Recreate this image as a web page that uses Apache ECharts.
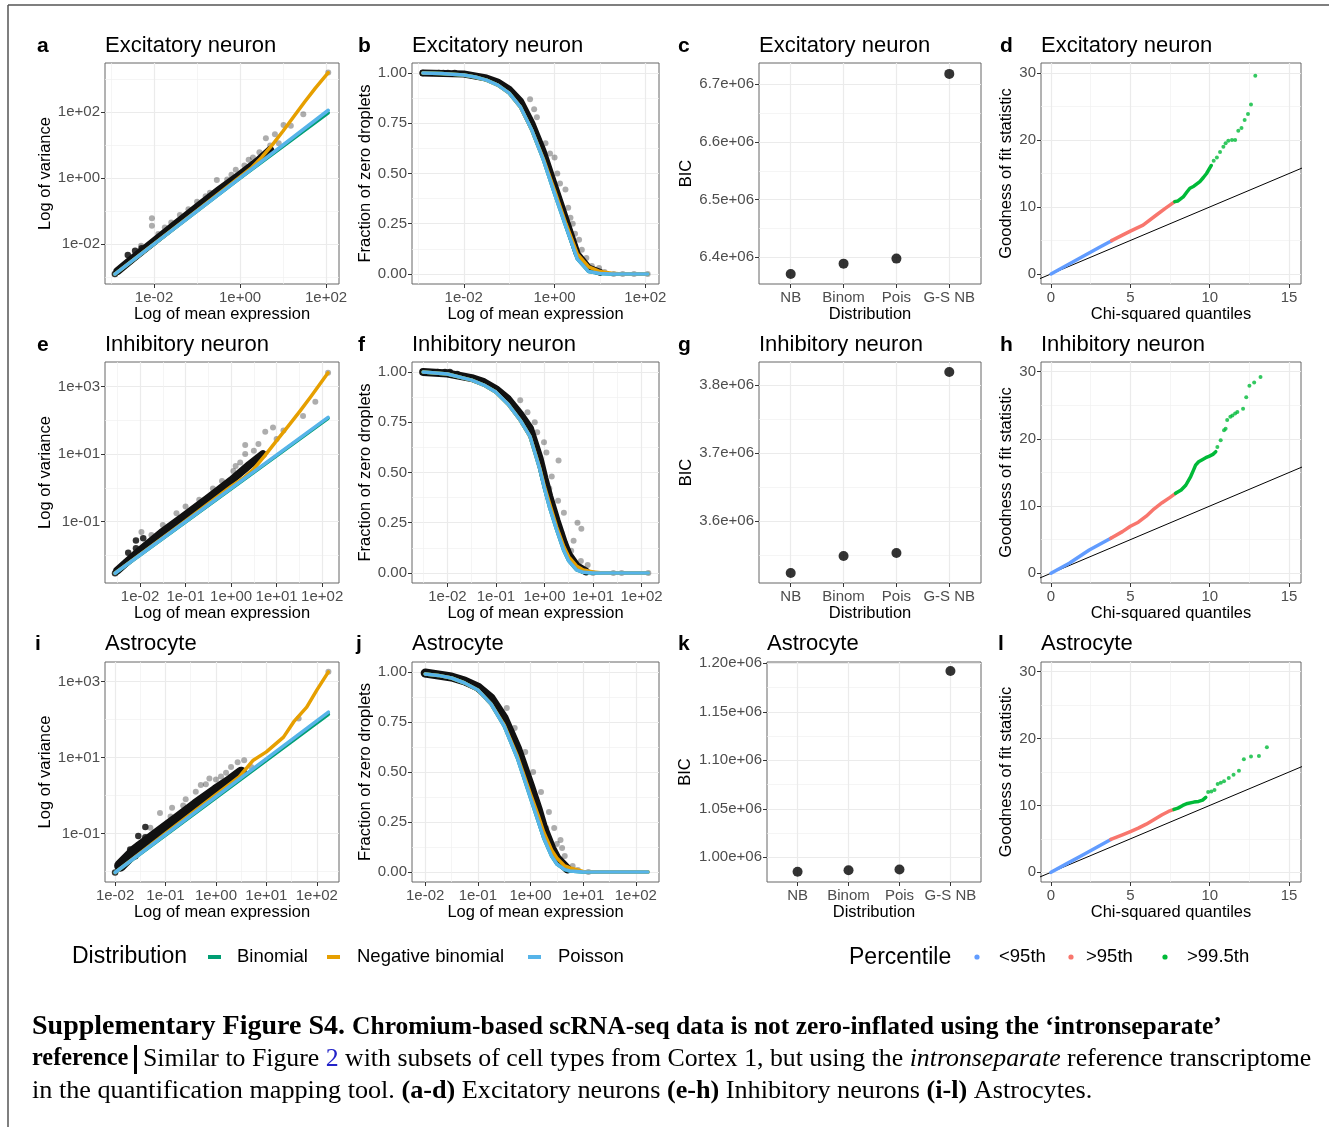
<!DOCTYPE html>
<html>
<head>
<meta charset="utf-8">
<title>Supplementary Figure S4</title>
<script src="https://cdn.jsdelivr.net/npm/echarts@6.0.0/dist/echarts.min.js"></script>
<style>
  html, body { margin: 0; padding: 0; background: #fff; }
  #main { width: 1329px; height: 1127px; }
</style>
</head>
<body>
<div id="main"></div>
<script>
// expression panels are stored as [log10(mean), log10(variance)] or [log10(mean), fraction of zeros]

// ---- Excitatory neuron ----
const aPois  = [[-2.91, -2.91], [2.05, 2.05]];
const aBinom = [[-2.91, -2.91], [0, -0.005], [2.05, 1.97]];
const aNB    = [[-2.91, -2.91], [-1, -0.99], [0, 0.03], [0.25, 0.29], [0.5, 0.62], [0.75, 1.0], [1.0, 1.42], [1.25, 1.86],
                [1.5, 2.3], [1.75, 2.72], [2.05, 3.19]];
const aBand  = [[-2.85, -2.82], [-2.5, -2.44], [-2, -1.92], [-1.5, -1.4], [-1, -0.88], [-0.5, -0.38], [0, 0.1], [0.4, 0.5], [0.7, 0.85]];
const aGrey  = [[-2.05, -1.22], [-2.05, -1.45], [-1.9, -1.7], [-1.6, -1.35], [-1.2, -0.95], [-1.0, -0.72], [-0.8, -0.55],
                [-0.54, -0.06], [-0.3, -0.05], [-0.1, 0.25], [0.1, 0.38], [0.3, 0.62], [0.45, 0.78], [0.6, 1.2], [0.81, 1.32],
                [1.01, 1.6], [1.18, 1.58], [1.47, 1.93], [2.05, 3.19], [0.9, 1.05], [0.7, 0.98], [0.2, 0.55], [-0.2, 0.1],
                [-0.7, -0.45], [-1.4, -1.12], [-1.75, -1.5], [-2.3, -2.05]];
const aBlack = [[-2.91, -2.91], [-2.61, -2.33], [-2.44, -2.2], [-2.29, -2.13]];

const bPois  = [[-2.9, 1.0], [-2.5, 0.998], [-2, 0.99], [-1.75, 0.98], [-1.5, 0.965], [-1.25, 0.94], [-1, 0.9], [-0.75, 0.83],
                [-0.5, 0.715], [-0.25, 0.57], [0, 0.4], [0.25, 0.235], [0.5, 0.075], [0.75, 0.012], [1, 0.002], [1.25, 0], [2.05, 0]];
const bBinom = [[-2.9, 1.0], [-2.5, 0.998], [-2, 0.99], [-1.75, 0.98], [-1.5, 0.965], [-1.25, 0.94], [-1, 0.9], [-0.75, 0.83],
                [-0.5, 0.715], [-0.25, 0.57], [0, 0.4], [0.25, 0.235], [0.5, 0.075], [0.75, 0.012], [1, 0.002], [1.25, 0], [2.05, 0]];
const bNB    = [[-2.9, 1.0], [-2.5, 0.998], [-2, 0.99], [-1.75, 0.98], [-1.5, 0.965], [-1.25, 0.94], [-1, 0.9], [-0.75, 0.83],
                [-0.5, 0.715], [-0.25, 0.575], [0, 0.415], [0.25, 0.25], [0.5, 0.1], [0.75, 0.035], [1, 0.012], [1.25, 0.003],
                [1.5, 0], [2.05, 0]];
const bBand  = [[-2.9, 1.0], [-2, 0.995], [-1.5, 0.975], [-1.25, 0.955], [-1, 0.92], [-0.75, 0.86], [-0.5, 0.75], [-0.25, 0.61],
                [0, 0.44], [0.25, 0.27], [0.5, 0.1], [0.75, 0.03], [1, 0.008]];
const bGrey  = [[-0.54, 0.87], [-0.39, 0.78], [-0.45, 0.82], [-0.2, 0.65], [0.0, 0.58], [0.06, 0.5], [0.12, 0.45], [0.24, 0.42],
                [0.2, 0.3], [0.35, 0.28], [0.45, 0.2], [0.54, 0.17], [0.6, 0.12], [0.7, 0.08], [0.82, 0.04], [0.98, 0.03],
                [1.1, 0.01], [1.3, 0], [1.5, 0], [1.75, 0], [2.05, 0], [-0.1, 0.6], [0.3, 0.33], [0.4, 0.25]];
const bBlack = [[-2.9, 1.0], [-2.55, 1.0], [-2.45, 1.0], [-2.35, 1.0], [-2.2, 1.0]];

const bicCategories = ['NB', 'Binom', 'Pois', 'G-S NB'];
const cBIC = [6.371e6, 6.389e6, 6.3977e6, 6.718e6];

const qqRef  = [[-1, -1], [16, 16]];
const dBlue  = [[0, 0], [1, 1.3], [2, 2.6], [3, 3.9], [3.82, 4.97]];
const dRed   = [[3.82, 4.97], [4.5, 5.8], [5, 6.4], [5.8, 7.3], [6.64, 8.8], [7.2, 9.8], [7.8, 10.8]];
const dGreen = [[7.8, 10.8], [8.0, 10.9], [8.33, 11.5], [8.55, 12.2], [8.75, 12.8], [9.0, 13.1], [9.38, 13.8], [9.6, 14.4],
                [9.8, 15.0], [9.95, 15.6], [10.1, 16.2]];
const dGreenDots = [[10.25, 16.9], [10.45, 17.4], [10.65, 18.2], [10.86, 19.0], [11.0, 19.5], [11.17, 19.9], [11.4, 20.0],
                    [11.6, 20.0], [11.8, 21.4], [12.0, 21.8], [12.2, 23.0], [12.41, 23.9], [12.6, 25.3], [12.87, 29.6]];

// ---- Inhibitory neuron ----
const ePois  = [[-2.55, -2.53], [2.13, 2.09]];
const eBinom = [[-2.55, -2.53], [2.13, 2.06]];
const eNB    = [[-2.55, -2.53], [-1, -0.98], [0, 0.04], [0.25, 0.27], [0.5, 0.56], [0.75, 0.97], [1.0, 1.4], [1.25, 1.82],
                [1.5, 2.25], [1.75, 2.7], [2.13, 3.41]];
const eBand  = [[-2.5, -2.45], [-2, -1.85], [-1.5, -1.3], [-1, -0.8], [-0.5, -0.3], [0, 0.22], [0.4, 0.68], [0.7, 1.0]];
const eGrey  = [[-1.97, -1.31], [0.31, 1.27], [0.31, 1.0], [0.75, 1.66], [0.92, 1.79], [1.58, 2.13], [2.13, 3.41], [-1.5, -1.1],
                [-1.2, -0.75], [-1.0, -0.55], [-0.7, -0.35], [-0.4, -0.02], [-0.2, 0.2], [0.05, 0.5], [0.2, 0.75], [0.5, 1.1],
                [0.6, 1.3], [1.0, 1.45], [1.15, 1.7], [1.85, 2.55], [-1.75, -1.4], [-0.9, -0.75], [0.1, 0.65]];
const eBlack = [[-2.55, -2.53], [-2.26, -1.92], [-2.09, -1.79], [-2.09, -1.56], [-1.93, -1.49], [-2.3, -2.2]];

const fPois  = [[-2.5, 1.0], [-2, 0.99], [-1.5, 0.96], [-1.25, 0.935], [-1, 0.9], [-0.75, 0.84], [-0.5, 0.76], [-0.3, 0.68],
                [-0.1, 0.52], [0, 0.42], [0.1, 0.33], [0.25, 0.215], [0.4, 0.11], [0.5, 0.06], [0.66, 0.015], [0.8, 0.003],
                [1.0, 0], [2.14, 0]];
const fBinom = [[-2.5, 1.0], [-2, 0.99], [-1.5, 0.96], [-1.25, 0.935], [-1, 0.9], [-0.75, 0.84], [-0.5, 0.76], [-0.3, 0.68],
                [-0.1, 0.52], [0, 0.42], [0.1, 0.33], [0.25, 0.215], [0.4, 0.11], [0.5, 0.06], [0.66, 0.015], [0.8, 0.003],
                [1.0, 0], [2.14, 0]];
const fNB    = [[-2.5, 1.0], [-2, 0.99], [-1.5, 0.96], [-1.25, 0.935], [-1, 0.9], [-0.75, 0.84], [-0.5, 0.76], [-0.3, 0.68],
                [-0.1, 0.525], [0, 0.43], [0.1, 0.35], [0.25, 0.23], [0.4, 0.13], [0.5, 0.08], [0.66, 0.035], [0.8, 0.015],
                [1.0, 0.005], [1.2, 0], [2.14, 0]];
const fBand  = [[-2.5, 1.0], [-2, 0.993], [-1.5, 0.97], [-1.25, 0.95], [-1, 0.915], [-0.75, 0.865], [-0.5, 0.79], [-0.3, 0.72],
                [-0.1, 0.57], [0, 0.47], [0.1, 0.38], [0.25, 0.26], [0.4, 0.15], [0.5, 0.09], [0.66, 0.035], [0.85, 0.008]];
const fGrey  = [[0.29, 0.56], [-0.01, 0.65], [0.04, 0.6], [0.68, 0.25], [0.76, 0.22], [0.28, 0.36], [0.55, 0.11], [0.89, 0.04],
                [1.0, 0], [1.42, 0], [1.59, 0], [2.14, 0], [-0.35, 0.8], [-0.2, 0.75], [-0.5, 0.86], [0.15, 0.48], [0.4, 0.3],
                [0.6, 0.16], [0.1, 0.42], [0.35, 0.2], [0.75, 0.06], [-0.15, 0.7]];
const fBlack = [[-2.5, 1.0], [-2.2, 1.0], [-2.05, 1.0], [-1.95, 1.0], [-1.8, 0.99]];

const gBIC = [3.5235e6, 3.5485e6, 3.5529e6, 3.8191e6];

const hBlue  = [[0, 0], [1.15, 1.49], [2.41, 3.47], [3.77, 5.2]];
const hRed   = [[3.77, 5.2], [4.5, 6.2], [5, 7], [5.5, 7.6], [6, 8.5], [6.5, 9.6], [7, 10.5], [7.5, 11.3], [7.85, 11.9]];
const hGreen = [[7.85, 11.9], [8.2, 12.4], [8.49, 13.1], [8.8, 14.4], [8.95, 15.2], [9.11, 16.1], [9.3, 16.6], [9.53, 16.9],
                [9.75, 17.2], [9.95, 17.4], [10.2, 17.7], [10.38, 18.1]];
const hGreenDots = [[10.48, 18.8], [10.69, 19.8], [10.9, 21.3], [11.0, 21.5], [11.1, 22.8], [11.3, 23.3], [11.43, 23.5],
                    [11.6, 23.8], [11.74, 24.0], [12.1, 24.5], [12.3, 26.2], [12.5, 27.9], [12.8, 28.4], [13.2, 29.2]];

// ---- Astrocyte ----
const iPois  = [[-2.0, -2.03], [2.23, 2.2]];
const iBinom = [[-2.0, -2.03], [2.23, 2.14]];
const iNB    = [[-2.0, -2.03], [-1, -1.0], [0, 0.02], [0.46, 0.49], [0.74, 0.93], [1.0, 1.15], [1.34, 1.54], [1.54, 1.94],
                [1.8, 2.33], [2.0, 2.78], [2.23, 3.26]];
const iBand  = [[-1.9, -1.85], [-1.6, -1.45], [-1.2, -1.05], [-0.8, -0.65], [-0.4, -0.25], [0, 0.13], [0.3, 0.4], [0.5, 0.6]];
const iGrey  = [[1.64, 2.03], [0.43, 0.88], [0.56, 0.93], [-1.11, -0.46], [-0.87, -0.32], [-0.65, -0.26], [-0.13, 0.45],
                [2.23, 3.26], [-0.4, 0.1], [-0.2, 0.3], [0.1, 0.5], [0.3, 0.75], [-0.9, -0.55], [-0.6, -0.1], [-1.3, -0.85],
                [0.2, 0.6], [0.7, 0.75], [-0.3, 0.28], [0.0, 0.42]];
const iBlack = [[-2.0, -2.03], [-1.7, -1.42], [-1.54, -1.31], [-1.54, -1.07], [-1.4, -0.83], [-1.4, -1.1], [-1.3, -1.2],
                [-1.6, -1.6], [-1.8, -1.75]];

const jPois  = [[-2.0, 0.99], [-1.75, 0.983], [-1.5, 0.97], [-1.25, 0.945], [-1.0, 0.91], [-0.75, 0.84], [-0.5, 0.73],
                [-0.25, 0.57], [0, 0.37], [0.15, 0.25], [0.25, 0.17], [0.4, 0.08], [0.5, 0.04], [0.65, 0.012], [0.75, 0.005],
                [1.0, 0], [2.23, 0]];
const jBinom = [[-2.0, 0.99], [-1.75, 0.983], [-1.5, 0.97], [-1.25, 0.945], [-1.0, 0.91], [-0.75, 0.84], [-0.5, 0.73],
                [-0.25, 0.57], [0, 0.37], [0.15, 0.25], [0.25, 0.17], [0.4, 0.08], [0.5, 0.04], [0.65, 0.012], [0.75, 0.005],
                [1.0, 0], [2.23, 0]];
const jNB    = [[-2.0, 0.99], [-1.75, 0.983], [-1.5, 0.97], [-1.25, 0.945], [-1.0, 0.91], [-0.75, 0.84], [-0.5, 0.735],
                [-0.25, 0.58], [0, 0.39], [0.15, 0.28], [0.25, 0.2], [0.4, 0.11], [0.5, 0.07], [0.65, 0.03], [0.75, 0.02],
                [1.0, 0.003], [1.3, 0], [2.23, 0]];
const jBand  = [[-2.0, 0.995], [-1.5, 0.975], [-1.25, 0.955], [-1.0, 0.925], [-0.75, 0.87], [-0.5, 0.77], [-0.25, 0.62],
                [0, 0.43], [0.15, 0.31], [0.25, 0.22], [0.4, 0.12], [0.5, 0.07], [0.7, 0.015]];
const jGrey  = [[0.57, 0.16], [0.6, 0.12], [0.45, 0.22], [0.35, 0.3], [0.2, 0.4], [0.05, 0.5], [-0.1, 0.6], [-0.3, 0.72],
                [0.65, 0.08], [0.8, 0.03], [0.9, 0.01], [1.1, 0], [-0.45, 0.82], [0.1, 0.35], [0.3, 0.22], [0.5, 0.14]];
const jBlack = [[-2.0, 0.99], [-1.9, 0.99], [-1.8, 0.985]];

const kBIC = [0.985e6, 0.9866e6, 0.9873e6, 1.1921e6];

const lBlue  = [[0, 0], [1, 1.3], [2, 2.6], [3, 3.9], [3.77, 4.91]];
const lRed   = [[3.77, 4.91], [4.5, 5.6], [5, 6.1], [5.5, 6.6], [6, 7.2], [6.5, 7.9], [7, 8.6], [7.4, 9.1], [7.75, 9.4]];
const lGreen = [[7.75, 9.4], [8.0, 9.6], [8.3, 10.0], [8.6, 10.3], [9.0, 10.5], [9.3, 10.6], [9.55, 10.8], [9.75, 11.2]];
const lGreenDots = [[9.9, 12.0], [10.1, 12.1], [10.3, 12.3], [10.5, 13.2], [10.7, 13.4], [10.9, 13.6], [11.2, 14.1],
                    [11.5, 14.6], [11.84, 15.2], [12.15, 16.9], [12.6, 17.3], [13.1, 17.4], [13.6, 18.7]];

// tick positions
const logTicks2 = [-2, 0, 2], logMinor2 = [-3, -1, 1, 3];
const logTicks1 = [-2, -1, 0, 1, 2], logMinor1 = [-2.5, -1.5, -0.5, 0.5, 1.5];
const varTicks = [-1, 1, 3], varMinor = [-2, 0, 2];
const fracTicks = [0, 0.25, 0.5, 0.75, 1], fracMinor = [0.125, 0.375, 0.625, 0.875];
const qqXTicks = [0, 5, 10, 15], qqXMinor = [2.5, 7.5, 12.5];
const qqYTicks = [0, 10, 20, 30], qqYMinor = [5, 15, 25];

const FONT = 'Liberation Sans, Arial, Helvetica, sans-serif';
const SERIF = 'Liberation Serif, Times New Roman, serif';
const C_BINOM = '#009E73', C_NB = '#E69F00', C_POIS = '#56B4E9';
const C_LOW = '#619CFF', C_MID = '#F8766D', C_HIGH = '#00BA38';

const logFmt = v => {
  const e = Math.round(v);
  return '1e' + (e < 0 ? '-' : '+') + String(Math.abs(e)).padStart(2, '0');
};
const fracFmt = v => v.toFixed(2);
const bicFmt = d => v => (v / 1e6).toFixed(d) + 'e+06';
const catFmt = v => bicCategories[Math.round(v) - 1];

const grids = [], xAxes = [], yAxes = [], series = [], graphics = [];

function makeAxes(list, gi, a, name, gap, isY) {
  list.push({
    type: 'value', gridIndex: gi, min: a.min, max: a.max,
    axisLine: { show: false, onZero: false },
    axisTick: { show: true, length: 4, customValues: a.major, lineStyle: { color: '#333', width: 1 } },
    axisLabel: { show: true, customValues: a.major, formatter: a.fmt, color: '#4d4d4d', fontSize: 15,
                 fontFamily: FONT, margin: isY ? 5 : 6 },
    splitLine: { show: true, lineStyle: { color: '#ebebeb', width: 1.2 } },
    name: name, nameLocation: 'middle', nameGap: gap,
    nameTextStyle: { color: '#000', fontSize: 16.5, fontFamily: FONT }
  });
  list.push({
    type: 'value', gridIndex: gi, min: a.min, max: a.max, position: isY ? 'left' : 'bottom',
    axisLine: { show: false, onZero: false }, axisLabel: { show: false },
    axisTick: { show: false, customValues: a.minor.length ? a.minor : [a.min] },
    splitLine: { show: a.minor.length > 0, lineStyle: { color: '#f0f0f0', width: 0.7 } }
  });
}

const lineS = (gi, name, data, color, width) => ({
  type: 'line', name, xAxisIndex: 2 * gi, yAxisIndex: 2 * gi, data, symbol: 'none', showSymbol: false,
  lineStyle: { color, width, cap: 'round', join: 'round' }, clip: true, silent: true
});
const dotS = (gi, name, data, color, size) => ({
  type: 'scatter', name, xAxisIndex: 2 * gi, yAxisIndex: 2 * gi, data, symbolSize: size,
  itemStyle: { color }, silent: true
});

function text(x, y, str, size, extra) {
  graphics.push({ type: 'text', x, y, silent: true,
    style: Object.assign({ text: str, fontSize: size, fontFamily: FONT, fill: '#000',
      align: 'left', textAlign: 'left', verticalAlign: 'middle', textVerticalAlign: 'middle' }, extra || {}) });
}

function panel(p) {
  const gi = grids.length;
  grids.push({ left: p.box[0], top: p.box[1], width: p.box[2], height: p.box[3], show: true,
               borderColor: '#666', borderWidth: 1, backgroundColor: '#fff' });
  makeAxes(xAxes, gi, p.x, p.xName, 22, false);
  makeAxes(yAxes, gi, p.y, p.yName, p.yGap, true);
  const d = p.d;
  if (p.kind === 'expr') {
    series.push(lineS(gi, 'cloud', d.band, '#111', p.bw));
    series.push(dotS(gi, 'genes', d.grey, 'rgba(0,0,0,0.4)', 6));
    series.push(dotS(gi, 'genes', d.black, '#000', 6.5));
    series.push(lineS(gi, 'Binomial', d.binom, C_BINOM, 3.5));
    series.push(lineS(gi, 'Negative binomial', d.nb, C_NB, 3.5));
    series.push(lineS(gi, 'Poisson', d.pois, C_POIS, 3.5));
  } else if (p.kind === 'bic') {
    series.push(dotS(gi, 'BIC', d.bic.map((v, i) => [i + 1, v]), '#000', 10));
  } else {
    series.push(lineS(gi, 'identity', qqRef, '#000', 1));
    series.push(lineS(gi, '<95th', d.blue, C_LOW, 3.5));
    series.push(lineS(gi, '>95th', d.red, C_MID, 3.5));
    series.push(lineS(gi, '>99.5th', d.green, C_HIGH, 3.5));
    series.push(dotS(gi, '>99.5th', d.dots, C_HIGH, 4));
  }
  text(p.lx, p.ty, p.letter, 21, { fontWeight: 'bold' });
  text(p.box[0], p.ty, p.title, 22);
}

const bicX = { min: 0.4, max: 4.6, major: [1, 2, 3, 4], minor: [], fmt: catFmt };
const qqX = { min: -0.63, max: 15.75, major: qqXTicks, minor: qqXMinor, fmt: String };

const panels = [
  { letter: 'a', lx: 37, ty: 46, title: 'Excitatory neuron', box: [105, 63, 234, 221], kind: 'expr', bw: 8,
    x: { min: -3.14, max: 2.3, major: logTicks2, minor: logMinor2, fmt: logFmt },
    y: { min: -3.21, max: 3.48, major: logTicks2, minor: logMinor2, fmt: logFmt },
    xName: 'Log of mean expression', yName: 'Log of variance', yGap: 51,
    d: { band: aBand, grey: aGrey, black: aBlack, binom: aBinom, nb: aNB, pois: aPois } },
  { letter: 'b', lx: 358, ty: 46, title: 'Excitatory neuron', box: [412, 63, 247, 221], kind: 'expr', bw: 7,
    x: { min: -3.14, max: 2.3, major: logTicks2, minor: logMinor2, fmt: logFmt },
    y: { min: -0.05, max: 1.05, major: fracTicks, minor: fracMinor, fmt: fracFmt },
    xName: 'Log of mean expression', yName: 'Fraction of zero droplets', yGap: 36,
    d: { band: bBand, grey: bGrey, black: bBlack, binom: bBinom, nb: bNB, pois: bPois } },
  { letter: 'c', lx: 678, ty: 46, title: 'Excitatory neuron', box: [759, 63, 222, 221], kind: 'bic',
    x: bicX,
    y: { min: 6.3537e6, max: 6.7369e6, major: [6.4e6, 6.5e6, 6.6e6, 6.7e6], minor: [6.45e6, 6.55e6, 6.65e6], fmt: bicFmt(1) },
    xName: 'Distribution', yName: 'BIC', yGap: 64, d: { bic: cBIC } },
  { letter: 'd', lx: 1000, ty: 46, title: 'Excitatory neuron', box: [1041, 63, 260, 221], kind: 'qq',
    x: qqX, y: { min: -1.5, max: 31.5, major: qqYTicks, minor: qqYMinor, fmt: String },
    xName: 'Chi-squared quantiles', yName: 'Goodness of fit statistic', yGap: 25,
    d: { blue: dBlue, red: dRed, green: dGreen, dots: dGreenDots } },

  { letter: 'e', lx: 37, ty: 345, title: 'Inhibitory neuron', box: [105, 362, 234, 221], kind: 'expr', bw: 8,
    x: { min: -2.77, max: 2.37, major: logTicks1, minor: logMinor1, fmt: logFmt },
    y: { min: -2.82, max: 3.73, major: varTicks, minor: varMinor, fmt: logFmt },
    xName: 'Log of mean expression', yName: 'Log of variance', yGap: 51,
    d: { band: eBand, grey: eGrey, black: eBlack, binom: eBinom, nb: eNB, pois: ePois } },
  { letter: 'f', lx: 358, ty: 345, title: 'Inhibitory neuron', box: [412, 362, 247, 221], kind: 'expr', bw: 8,
    x: { min: -2.73, max: 2.36, major: logTicks1, minor: logMinor1, fmt: logFmt },
    y: { min: -0.05, max: 1.05, major: fracTicks, minor: fracMinor, fmt: fracFmt },
    xName: 'Log of mean expression', yName: 'Fraction of zero droplets', yGap: 36,
    d: { band: fBand, grey: fGrey, black: fBlack, binom: fBinom, nb: fNB, pois: fPois } },
  { letter: 'g', lx: 678, ty: 345, title: 'Inhibitory neuron', box: [759, 362, 222, 221], kind: 'bic',
    x: bicX,
    y: { min: 3.5088e6, max: 3.8338e6, major: [3.6e6, 3.7e6, 3.8e6], minor: [3.55e6, 3.65e6, 3.75e6], fmt: bicFmt(1) },
    xName: 'Distribution', yName: 'BIC', yGap: 64, d: { bic: gBIC } },
  { letter: 'h', lx: 1000, ty: 345, title: 'Inhibitory neuron', box: [1041, 362, 260, 221], kind: 'qq',
    x: qqX, y: { min: -1.45, max: 31.45, major: qqYTicks, minor: qqYMinor, fmt: String },
    xName: 'Chi-squared quantiles', yName: 'Goodness of fit statistic', yGap: 25,
    d: { blue: hBlue, red: hRed, green: hGreen, dots: hGreenDots } },

  { letter: 'i', lx: 35, ty: 644, title: 'Astrocyte', box: [105, 662, 234, 220], kind: 'expr', bw: 12,
    x: { min: -2.2, max: 2.44, major: logTicks1, minor: logMinor1, fmt: logFmt },
    y: { min: -2.28, max: 3.52, major: varTicks, minor: varMinor, fmt: logFmt },
    xName: 'Log of mean expression', yName: 'Log of variance', yGap: 51,
    d: { band: iBand, grey: iGrey, black: iBlack, binom: iBinom, nb: iNB, pois: iPois } },
  { letter: 'j', lx: 356, ty: 644, title: 'Astrocyte', box: [412, 662, 247, 220], kind: 'expr', bw: 9,
    x: { min: -2.25, max: 2.44, major: logTicks1, minor: logMinor1, fmt: logFmt },
    y: { min: -0.05, max: 1.05, major: fracTicks, minor: fracMinor, fmt: fracFmt },
    xName: 'Log of mean expression', yName: 'Fraction of zero droplets', yGap: 36,
    d: { band: jBand, grey: jGrey, black: jBlack, binom: jBinom, nb: jNB, pois: jPois } },
  { letter: 'k', lx: 678, ty: 644, title: 'Astrocyte', box: [767, 662, 214, 220], kind: 'bic',
    x: bicX,
    y: { min: 0.9745e6, max: 1.2013e6, major: [1.0e6, 1.05e6, 1.1e6, 1.15e6, 1.2e6],
         minor: [1.025e6, 1.075e6, 1.125e6, 1.175e6], fmt: bicFmt(2) },
    xName: 'Distribution', yName: 'BIC', yGap: 73, d: { bic: kBIC } },
  { letter: 'l', lx: 998, ty: 644, title: 'Astrocyte', box: [1041, 662, 260, 220], kind: 'qq',
    x: qqX, y: { min: -1.45, max: 31.45, major: qqYTicks, minor: qqYMinor, fmt: String },
    xName: 'Chi-squared quantiles', yName: 'Goodness of fit statistic', yGap: 25,
    d: { blue: lBlue, red: lRed, green: lGreen, dots: lGreenDots } }
];
panels.forEach(panel);

// page frame
graphics.push({ type: 'line', silent: true, shape: { x1: 8, y1: 5, x2: 1329, y2: 5 }, style: { stroke: '#555', lineWidth: 1.5 } });
graphics.push({ type: 'line', silent: true, shape: { x1: 8, y1: 5, x2: 8, y2: 1127 }, style: { stroke: '#555', lineWidth: 1.5 } });

// legends
text(72, 957, 'Distribution', 23);
[[208, C_BINOM, 237, 'Binomial'], [327, C_NB, 357, 'Negative binomial'], [528, C_POIS, 558, 'Poisson']].forEach(k => {
  graphics.push({ type: 'rect', silent: true, shape: { x: k[0], y: 955, width: 13, height: 4 }, style: { fill: k[1] } });
  text(k[2], 957, k[3], 18.5);
});
text(849, 958, 'Percentile', 23);
[[977, C_LOW, 999, '<95th'], [1071, C_MID, 1086, '>95th'], [1165, C_HIGH, 1187, '>99.5th']].forEach(k => {
  graphics.push({ type: 'circle', silent: true, shape: { cx: k[0], cy: 957, r: 2.6 }, style: { fill: k[1] } });
  text(k[2], 957, k[3], 18.5);
});

// caption
const capRich = {
  h: { fontFamily: SERIF, fontSize: 28, fontWeight: 'bold', fill: '#000' },
  b: { fontFamily: SERIF, fontSize: 25.5, fontWeight: 'bold', fill: '#000' },
  r: { fontFamily: SERIF, fontSize: 24.3, fontWeight: 'bold', fill: '#000' },
  n: { fontFamily: SERIF, fontSize: 25.8, fill: '#000' },
  i: { fontFamily: SERIF, fontSize: 25.8, fontStyle: 'italic', fill: '#000' },
  l: { fontFamily: SERIF, fontSize: 25.8, fill: '#2323c8' },
  n3: { fontFamily: SERIF, fontSize: 26.2, fill: '#000' },
  b3: { fontFamily: SERIF, fontSize: 26.2, fontWeight: 'bold', fill: '#000' }
};
text(32, 1027, '{h|Supplementary Figure S4.} {b|Chromium-based scRNA-seq data is not zero-inflated using the \u2018intronseparate\u2019}', 25.5, { rich: capRich });
text(32, 1059, '{r|reference}', 24.3, { rich: capRich });
graphics.push({ type: 'rect', silent: true, shape: { x: 134, y: 1045, width: 3, height: 29 }, style: { fill: '#000' } });
text(143, 1059, '{n|Similar to Figure }{l|2}{n| with subsets of cell types from Cortex 1, but using the }{i|intronseparate}{n| reference transcriptome}', 25.8, { rich: capRich });
text(32, 1091, '{n3|in the quantification mapping tool. }{b3|(a-d)}{n3| Excitatory neurons }{b3|(e-h)}{n3| Inhibitory neurons }{b3|(i-l)}{n3| Astrocytes.}', 26.2, { rich: capRich });

const chart = echarts.init(document.getElementById('main'), null, { renderer: 'canvas' });
chart.setOption({
  animation: false,
  backgroundColor: '#fff',
  textStyle: { fontFamily: FONT },
  grid: grids,
  xAxis: xAxes,
  yAxis: yAxes,
  series: series,
  graphic: { elements: graphics }
});
window.addEventListener('resize', () => chart.resize());
</script>
</body>
</html>
